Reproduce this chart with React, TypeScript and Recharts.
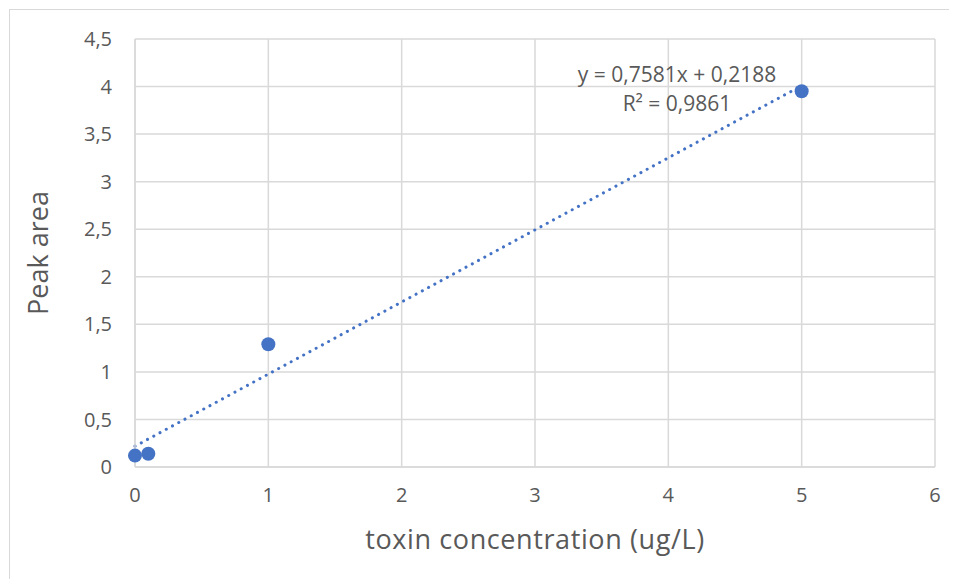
import { ScatterChart, Scatter, XAxis, YAxis, CartesianGrid, ReferenceLine } from 'recharts';

const concentrations = [0, 0.1, 1, 5];
const peakAreas = [0.12, 0.14, 1.29, 3.95];
const xTicks = [0, 1, 2, 3, 4, 5, 6];
const yTicks = [0, 0.5, 1, 1.5, 2, 2.5, 3, 3.5, 4, 4.5];
const slope = 0.7581;
const intercept = 0.2188;
const rSquared = 0.9861;

const points = concentrations.map((x, i) => ({ x, y: peakAreas[i] }));
const trendStart = concentrations[0];
const trendEnd = concentrations[concentrations.length - 1];

const fmt = (v: number) => String(v).replace('.', ',');
const font = '"Open Sans", "Noto Sans", sans-serif';
const textColor = '#595959';
const gridColor = '#d9d9d9';

const Dot = (props: any) => <circle cx={props.cx} cy={props.cy} r={7} fill="#4472C4" />;

const App = () => {
  return (
    <div style={{ position: 'relative', width: 949, height: 571, fontFamily: font }}>
      <div
        style={{
          position: 'absolute',
          left: 1,
          top: 1,
          width: 960,
          height: 580,
          border: `1px solid ${gridColor}`,
          boxSizing: 'border-box',
        }}
      />
      <ScatterChart width={949} height={571} margin={{ top: 31, right: 22, left: 0, bottom: 0 }}>
        <CartesianGrid stroke={gridColor} strokeWidth={1.5} />
        <XAxis
          type="number"
          dataKey="x"
          domain={[0, 6]}
          ticks={xTicks}
          tickFormatter={fmt}
          axisLine={{ stroke: gridColor, strokeWidth: 1.5 }}
          tickLine={false}
          tickMargin={15}
          height={112}
          tick={{ fill: textColor, fontSize: 20, fontFamily: font }}
          label={{
            value: 'toxin concentration (ug/L)',
            position: 'insideBottom',
            offset: 30,
            fill: textColor,
            fontSize: 27,
            fontFamily: font,
            style: { letterSpacing: '0.6px' },
          }}
        />
        <YAxis
          type="number"
          dataKey="y"
          domain={[0, 4.5]}
          ticks={yTicks}
          tickFormatter={fmt}
          axisLine={{ stroke: gridColor, strokeWidth: 1.5 }}
          tickLine={false}
          tickMargin={17}
          width={127}
          tick={{ fill: textColor, fontSize: 20, fontFamily: font }}
          label={{
            value: 'Peak area',
            angle: -90,
            position: 'insideLeft',
            offset: 30,
            fill: textColor,
            fontSize: 27,
            fontFamily: font,
            style: { textAnchor: 'middle' },
          }}
        />
        <ReferenceLine
          segment={[
            { x: trendStart, y: slope * trendStart + intercept },
            { x: trendEnd, y: slope * trendEnd + intercept },
          ]}
          stroke="#4472C4"
          strokeWidth={3}
          strokeDasharray="0.1 7"
          strokeLinecap="round"
          ifOverflow="extendDomain"
        />
        <Scatter data={points} fill="#4472C4" shape={Dot} isAnimationActive={false} />
      </ScatterChart>
      <div
        style={{
          position: 'absolute',
          left: 569,
          top: 52,
          width: 200,
          textAlign: 'center',
          color: textColor,
          fontSize: 21,
          lineHeight: '29px',
          whiteSpace: 'nowrap',
        }}
      >
        <div>y = {fmt(slope)}x + {fmt(intercept)}</div>
        <div>R² = {fmt(rSquared)}</div>
      </div>
    </div>
  );
};

export default App;
